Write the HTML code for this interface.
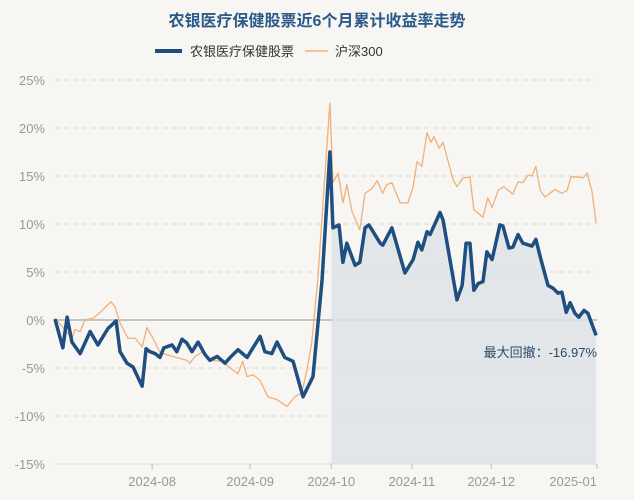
<!DOCTYPE html>
<html><head><meta charset="utf-8"><style>
body{margin:0;background:#f8f6f2;}
svg{display:block;font-family:"Liberation Sans","Noto Sans CJK SC",sans-serif;}
</style></head><body>
<svg id="chart" width="634" height="500">
<rect width="634" height="500" fill="#f8f6f2"/>
<text x="317" y="26" text-anchor="middle" font-size="16" font-weight="bold" fill="#2a5a8a">农银医疗保健股票近6个月累计收益率走势</text>
<g>
<line x1="155" y1="51" x2="182" y2="51" stroke="#1f4e80" stroke-width="4"/>
<text x="190" y="56" font-size="13" fill="#333">农银医疗保健股票</text>
<line x1="305" y1="51" x2="328" y2="51" stroke="#f0b07a" stroke-width="1.5"/>
<text x="335" y="56" font-size="13" fill="#333">沪深300</text>
</g>
<g id="grid"></g><g id="area"></g><g id="lines"></g><g id="axes"></g>
<text x="597" y="357" text-anchor="end" font-size="13" fill="#2a4a6a">最大回撤：-16.97%</text>
</svg>
<script>
const yTicks=[25,20,15,10,5,0,-5,-10,-15];
const xTickLabels=["2024-08","2024-09","2024-10","2024-11","2024-12","2025-01"];
const xTickDays=[22.4,45,63.7,82.3,100.6,125];
const fundDays=[0,1.8,2.8,3.9,5.8,8.1,9.9,12.2,14.1,15,16.6,18,20.1,21,21.9,23.1,24.2,25.1,27,28.1,29.3,30.4,31.6,33,34.6,35.7,37.4,39.2,40.4,42.2,44.3,47.3,48.4,50,51.2,53,54.9,57.2,59.5,61.6,63.4,64.1,65.5,66.4,67.3,69.2,70.3,71.5,72.4,75,75.6,77.7,80.7,82.6,83.7,84.6,85.8,86.5,88.8,89.5,92.7,93.9,94.8,95.7,96.6,97.6,98.7,99.6,100.8,102.6,103.3,104.7,105.6,106.8,107.9,110,110.9,111.9,113.7,114.9,116,116.9,117.9,118.8,119.9,120.8,122,122.9,124.8];
const fundVals=[0.1,-2.9,0.3,-2.3,-3.5,-1.2,-2.6,-0.9,-0.1,-3.3,-4.5,-4.9,-6.9,-3,-3.3,-3.5,-3.9,-2.9,-2.6,-3.3,-2.0,-2.4,-3.3,-2.3,-3.6,-4.2,-3.8,-4.5,-3.9,-3.1,-3.9,-1.7,-3.3,-3.5,-2.3,-3.9,-4.3,-8.0,-5.9,4.2,17.5,9.6,9.9,6.0,8.0,5.7,6.0,9.6,9.9,8.0,7.8,9.6,4.9,6.3,8.1,7.3,9.2,8.9,11.2,10.4,2.1,3.6,8.0,8.0,3.1,3.8,4.0,7.1,6.3,9.9,9.8,7.5,7.6,8.9,8.0,7.7,8.4,6.6,3.6,3.3,2.8,2.9,0.8,1.8,0.7,0.3,1.0,0.7,-1.6];
const hsDays=[0,3.9,4.6,5.8,6.9,8.8,10.4,12.9,13.8,15,16.8,18.5,20.1,21.2,22.6,24.2,27.2,30.4,31.1,32.3,34.1,35.7,38.5,41,42.2,43.3,44.3,45.7,47.3,49.1,51.2,53.5,55.3,56.9,58.1,59.2,60.6,63.4,64.1,65.3,66.4,67.3,68.5,70.3,71.5,73.1,74.3,75.6,76.5,77.7,79.6,81.4,82.6,83.5,84.6,85.8,86.7,87.4,88.6,89.5,91.8,92.7,94.1,95.7,96.6,98.7,99.8,100.8,102.2,103.5,105.6,106.8,107.9,109.1,110,110.9,111.9,113,115.3,116.9,118.1,119,120.6,121.8,122.7,123.8,124.8];
const hsVals=[0.2,-1.9,-1.0,-1.2,0,0.2,0.8,1.9,1.4,-0.3,-1.9,-1.9,-2.8,-0.8,-1.9,-3.4,-3.8,-4.2,-4.5,-3.8,-3.3,-4.2,-4.3,-5.2,-5.6,-4.3,-5.9,-5.7,-6.3,-8.0,-8.3,-9.0,-8.0,-7.6,-5.2,-2.4,4.2,22.6,14.3,15.3,12.2,14.1,11.3,9.4,13.2,13.7,14.5,13.2,14.1,14.3,12.2,12.2,13.9,16.5,16.0,19.5,18.5,19.1,17.9,18.5,14.6,13.9,14.8,14.9,11.5,10.7,12.7,11.7,13.5,13.9,13.1,14.4,14.3,15.1,15.0,16.0,13.5,12.8,13.6,13.2,13.5,14.9,14.9,14.8,15.3,13.5,10.1];
const X0=55,X1=597,Y0=80,Y1=464,DMAX=125,VMAX=25,VMIN=-15;
const xs=d=>X0+d/DMAX*(X1-X0);
const ys=v=>Y0+(VMAX-v)/(VMAX-VMIN)*(Y1-Y0);
const NS="http://www.w3.org/2000/svg";
function mk(tag,parent,attrs){const e=document.createElementNS(NS,tag);for(const k in attrs)e.setAttribute(k,attrs[k]);document.getElementById(parent).appendChild(e);return e;}
yTicks.forEach(v=>{
 const y=ys(v);
 const l=mk('line','grid',{x1:X0,x2:X1,y1:y,y2:y,stroke:v===0?'#c4c4c4':'#dcdad6','stroke-width':v===0?2:1,'stroke-dasharray':(v===0||v===VMIN)?'none':'5,4'});
 
 
 const t=mk('text','axes',{x:45,y:y+5,'text-anchor':'end','font-size':13,fill:'#999'});
 t.textContent=v+'%';
 
 
});
xTickLabels.forEach((lab,i)=>{
 const x=xs(xTickDays[i]);
 const tk=mk('line','axes',{x1:x,x2:x,y1:Y1,y2:Y1+5,stroke:'#bbb'});
 
 
 const t=mk('text','axes',{x:x,y:486,'text-anchor':i===xTickLabels.length-1?'end':'middle','font-size':13,fill:'#999'});
 t.textContent=lab;
 
 
});
// area
let ap=[];
const startD=xTickDays[2];
let first=true;
fundDays.forEach((d,i)=>{if(d>=63.4){ap.push(xs(Math.max(d,startD))+','+ys(fundVals[i]));}});
const fx0=xs(startD), fxl=xs(fundDays[fundDays.length-1]);
const area=mk('polygon','area',{points:fx0+','+Y1+' '+ap.join(' ')+' '+fxl+','+Y1,fill:'#dfe3e7',opacity:0.85});


const hp=hsDays.map((d,i)=>xs(d)+','+ys(hsVals[i])).join(' ');
const hl=mk('polyline','lines',{points:hp,fill:'none',stroke:'#f0b07a','stroke-width':1.3,'stroke-linejoin':'round'});


const fp=fundDays.map((d,i)=>xs(d)+','+ys(fundVals[i])).join(' ');
const fl=mk('polyline','lines',{points:fp,fill:'none',stroke:'#1f4e80','stroke-width':3.5,'stroke-linejoin':'round'});


</script>
</body></html>
